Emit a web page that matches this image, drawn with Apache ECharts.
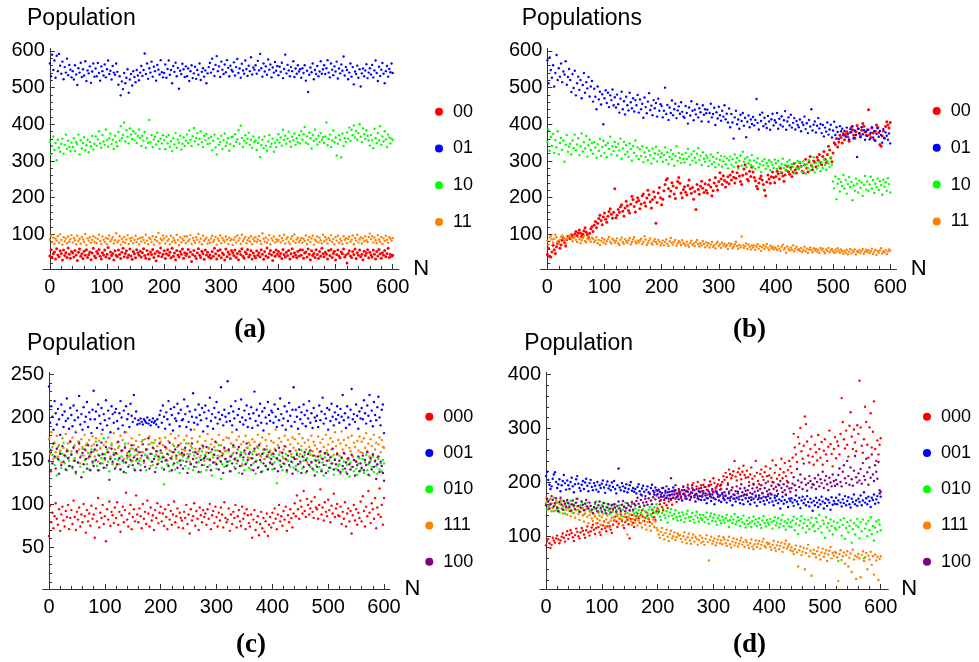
<!DOCTYPE html>
<html>
<head>
<meta charset="utf-8">
<script src="https://cdn.jsdelivr.net/npm/echarts@6/dist/echarts.min.js"></script>
<style>
html, body { margin: 0; padding: 0; background: #fff; }
#chart { width: 979px; height: 662px; }
</style>
</head>
<body>
<div id="chart"></div>
<script>
// Populations are recorded every STEP generations, from N = 0 to N = 600.
const STEP = 2;

const xTickLabels = [0, 100, 200, 300, 400, 500, 600];
const yTicksAB = [100, 200, 300, 400, 500, 600];
const yTicksC = [50, 100, 150, 200, 250];
const yTicksD = [100, 200, 300, 400];

const namesAB = ['00', '01', '10', '11'];
const namesCD = ['000', '001', '010', '111', '100'];

// ---- (a) two-bit genotypes, stable populations ----
const popA00 = [
41,58,36,47,52,33,61,44,39,55,48,30,57,42,50,37,63,46,35,53,
49,38,56,44,29,51,60,40,47,34,54,43,58,37,45,52,31,49,62,41,
36,53,47,59,40,33,50,44,57,38,46,64,35,52,42,48,30,55,43,39,
57,45,34,51,62,39,48,55,37,44,60,41,32,53,47,36,58,49,43,54,
38,50,61,42,35,56,46,33,52,45,59,37,48,28,54,41,50,63,39,46,
55,34,47,58,43,51,36,62,40,49,31,56,44,38,53,46,60,35,50,42,
47,59,39,52,26,45,56,41,34,50,61,43,37,54,48,32,57,44,51,38,
44,35,53,40,62,47,33,55,42,58,36,49,45,30,60,39,52,46,34,56,
50,42,57,37,48,31,54,45,61,40,35,52,47,59,38,44,55,33,49,41,
36,55,43,50,39,58,46,32,53,41,63,37,48,56,44,29,51,40,57,46,
53,40,48,34,59,45,38,51,42,56,33,47,61,39,50,44,36,54,41,58,
43,57,35,49,52,38,60,46,31,55,42,48,37,58,45,34,53,40,62,47,
39,51,46,33,56,42,59,37,48,54,30,45,57,41,36,52,47,60,38,44,
22,48,55,41,37,53,45,60,34,50,43,57,39,46,31,54,42,49,58,36,
51,44,38,57,46,33,53,41,59,47,35,50,43,56,39,48,62,37,45,40,
43];
const popA01 = [
566,531,590,548,574,527,587,545,592,560,538,571,523,556,541,579,534,562,549,528,
545,522,561,536,507,553,541,568,529,550,533,572,518,547,539,558,513,544,566,530,
552,531,567,540,519,558,545,533,563,528,550,574,537,546,522,559,541,535,566,543,
508,531,479,517,496,540,512,527,550,486,522,537,506,545,529,515,548,533,520,541,
559,532,548,593,537,566,524,553,541,571,530,557,545,519,562,549,536,575,542,528,
540,563,527,551,574,535,548,512,559,543,568,531,554,497,546,537,565,550,529,558,
531,552,518,545,561,526,539,557,524,548,535,566,521,543,553,530,547,512,539,556,
567,541,579,550,532,562,586,545,558,529,571,549,537,563,542,575,554,531,560,548,
544,569,533,556,578,540,552,527,565,547,538,574,551,532,560,545,583,536,555,549,
561,538,573,547,592,553,530,566,544,558,535,577,549,563,528,555,541,570,546,559,
534,557,543,568,526,551,590,539,562,547,531,556,545,572,529,552,538,561,544,550,
527,553,540,561,519,546,488,535,555,542,566,523,548,537,559,531,544,572,538,550,
561,537,553,575,541,528,566,549,534,558,544,571,525,552,539,563,546,585,533,556,
548,523,541,566,530,556,509,544,537,560,527,550,503,539,552,531,547,564,526,541,
553,536,562,528,547,574,540,518,557,532,549,567,538,512,545,559,530,551,542,566,
540];
const popA10 = [
352,318,341,367,330,349,302,358,336,325,347,361,320,344,372,333,355,339,327,350,
338,362,327,351,346,372,318,356,334,349,365,329,343,358,324,352,340,368,331,347,
367,342,359,381,348,336,371,353,344,386,357,339,362,375,346,358,333,369,352,340,
379,356,395,362,371,405,353,384,366,348,389,372,360,381,357,375,349,368,386,363,
341,368,355,379,336,362,349,412,352,371,338,359,366,345,377,354,333,361,348,370,
357,332,366,348,371,339,354,327,362,345,376,336,358,350,369,331,347,364,341,355,
372,349,383,358,341,367,390,354,363,376,345,360,381,352,338,369,357,374,346,362,
348,366,329,355,372,337,318,361,344,352,369,333,357,375,341,350,362,328,346,365,
366,341,373,352,359,384,347,396,363,338,355,370,349,361,377,344,358,336,367,351,
356,330,349,364,311,343,358,335,367,342,328,353,371,339,347,361,325,350,338,357,
373,350,364,342,385,358,369,347,361,380,353,339,366,357,375,344,362,351,370,348,
381,358,373,393,350,367,346,377,362,334,371,355,386,360,345,369,352,376,358,365,
349,367,405,343,360,372,338,356,383,351,364,315,347,370,358,310,375,341,362,352,
378,361,391,355,385,370,397,364,382,358,376,400,366,352,389,373,360,384,369,356,
342,371,357,335,388,362,349,376,356,395,344,367,353,381,359,338,372,364,348,361,
357];
const popA11 = [
86,97,79,91,74,88,83,95,77,100,85,72,92,81,89,76,94,80,87,98,
78,90,84,73,96,82,88,75,93,86,79,101,71,89,83,92,77,85,95,80,
91,76,87,99,82,74,94,85,79,90,73,88,97,81,86,92,75,84,103,78,
83,95,72,88,80,93,77,86,98,74,89,82,91,76,85,96,79,87,73,90,
80,92,85,77,99,83,74,91,87,79,95,72,86,93,81,104,76,88,84,97,
89,75,94,82,87,73,96,80,90,84,77,99,85,71,92,78,88,83,95,76,
94,81,86,98,74,90,83,77,92,85,101,79,88,73,96,82,87,91,75,84,
77,89,96,80,85,93,72,88,82,97,76,90,84,79,94,86,74,91,83,87,
71,85,92,78,97,83,89,74,99,81,87,93,76,84,90,80,95,73,88,82,
92,79,86,95,82,74,103,88,80,91,77,85,98,73,89,83,94,78,87,81,
85,96,78,90,83,99,75,87,92,80,74,88,95,82,100,77,86,91,79,84,
90,77,88,82,97,74,85,93,79,89,96,72,86,81,94,78,91,84,76,99,
81,93,86,75,90,84,98,79,87,73,92,83,96,77,88,82,74,95,85,89,
76,88,94,80,85,97,73,90,83,99,78,86,92,75,89,81,95,84,79,93,
102,87,95,78,91,84,76,98,86,80,93,74,89,82,96,85,77,92,88,83,
90];

// ---- (b) two-bit genotypes, shifting populations ----
const popB00 = [
45,62,40,38,52,70,58,48,66,75,80,62,71,84,90,77,68,86,95,93,
88,99,96,92,101,108,97,104,112,103,94,100,110,118,106,99,92,103,115,121,
108,125,135,118,130,143,152,138,126,147,158,141,133,149,162,170,155,144,160,224,
145,152,168,160,175,181,163,150,172,190,178,165,158,182,204,195,176,161,188,200,
192,170,183,205,210,186,177,199,220,208,189,172,195,216,202,130,187,213,228,200,
181,196,219,236,248,252,225,204,218,241,232,210,198,227,244,255,239,213,200,222,
230,215,207,233,248,224,212,228,196,217,168,236,222,209,231,245,226,214,238,220,
213,235,248,229,205,219,240,255,232,221,244,268,251,236,260,247,229,242,257,238,
262,248,271,256,240,253,268,285,259,244,236,261,278,290,265,250,246,272,258,283,
270,255,246,231,224,240,252,259,248,236,220,205,243,262,251,239,257,270,255,241,
258,272,265,251,280,268,259,245,262,275,286,271,264,282,258,270,293,276,267,285,
279,295,286,272,268,290,305,281,270,297,312,288,276,300,296,284,310,302,318,296,
290,312,326,305,296,318,340,330,308,298,322,350,345,361,338,352,370,364,349,375,
358,372,380,366,354,378,392,385,370,362,380,397,388,375,368,384,402,395,379,370,
385,440,372,364,390,376,358,381,398,392,377,345,340,368,382,363,394,407,398,390,
405];
const popB01 = [
575,512,582,548,527,561,503,540,589,521,553,530,566,515,544,536,572,508,529,551,
521,488,537,499,546,479,512,530,494,521,471,507,540,486,515,498,529,476,503,518,
462,497,475,441,503,468,489,454,482,400,471,493,458,486,447,479,466,495,452,474,
446,481,455,432,470,489,441,463,427,475,452,438,486,460,444,471,435,466,452,480,
432,468,441,456,418,473,447,430,462,485,439,451,425,466,444,458,421,470,437,455,
450,419,437,500,428,453,412,446,431,465,425,441,456,417,438,449,429,460,434,421,
418,450,431,402,446,424,463,437,411,440,427,455,419,444,433,408,452,426,441,430,
440,407,431,456,419,428,445,398,433,416,448,425,410,437,421,452,414,429,405,443,
392,428,405,361,419,437,400,413,388,426,409,431,396,418,365,407,424,392,413,401,
420,397,412,469,404,386,426,409,432,395,418,401,390,423,408,385,414,429,397,411,
405,431,388,415,399,422,394,411,436,385,408,419,397,426,391,404,417,386,409,398,
392,413,381,405,398,421,387,403,376,412,394,441,383,399,408,378,396,417,389,401,
376,398,367,391,380,405,372,386,399,364,383,407,371,392,379,360,395,381,388,370,
382,366,391,374,359,387,379,395,362,383,371,311,388,376,365,392,373,384,358,380,
368,385,359,377,392,364,381,355,374,389,366,382,371,350,387,362,378,369,358,375,
348];
const popB10 = [
352,385,328,366,341,374,322,357,337,381,318,349,363,330,356,298,344,371,325,339,
347,318,356,335,372,329,345,362,316,340,375,326,351,334,368,312,343,358,330,349,
320,351,337,309,346,328,360,314,338,355,322,343,310,349,333,366,318,340,327,352,
338,315,347,329,361,306,334,352,318,343,325,311,348,333,301,340,322,356,314,337,
305,332,314,340,297,323,311,336,302,328,316,293,334,307,321,339,299,318,328,310,
321,298,316,337,303,324,292,311,330,305,319,287,314,340,300,322,309,295,318,306,
296,322,305,333,312,290,318,301,327,309,296,320,335,303,314,289,324,306,298,315,
309,286,301,318,292,311,297,283,306,322,290,303,314,285,299,312,291,307,280,302,
312,290,305,284,318,296,308,279,301,315,287,325,298,306,283,310,294,302,289,316,
285,301,278,296,307,283,292,270,299,288,305,279,294,286,302,275,297,289,281,304,
294,279,300,285,270,292,306,281,289,274,298,287,303,276,291,284,266,295,282,300,
278,296,284,270,299,288,265,292,281,302,274,290,283,310,269,295,279,287,297,272,
296,281,304,289,276,300,293,284,310,290,244,226,258,196,238,251,217,243,232,262,
225,248,211,237,256,229,243,193,233,219,252,238,214,246,227,241,205,235,259,222,
244,218,236,257,225,248,213,238,229,252,221,245,234,208,249,230,242,219,253,237,
214];
const popB11 = [
83,72,91,95,86,78,88,99,92,81,76,85,93,97,89,82,74,87,90,95,
98,88,81,92,96,85,79,93,87,76,84,90,95,82,78,89,94,86,80,91,
88,79,84,92,76,85,71,83,90,78,86,74,81,87,93,80,75,88,84,77,
82,89,76,71,85,91,79,74,87,81,77,84,90,73,79,86,92,80,75,83,
78,84,88,73,80,95,86,71,77,83,89,76,72,81,87,79,74,85,80,70,
76,83,70,79,86,74,68,81,90,77,72,80,85,69,75,82,78,71,84,76,
74,69,80,72,66,77,83,71,75,68,79,85,73,67,76,70,81,74,65,78,
70,76,64,72,79,66,71,62,75,80,68,73,63,77,69,74,66,71,60,76,
69,74,62,67,73,80,68,61,71,65,94,70,63,68,75,60,72,66,59,70,
64,70,58,66,73,61,68,55,65,71,60,67,74,63,57,69,62,66,59,64,
62,57,68,61,55,66,72,59,63,50,67,60,56,64,58,70,54,61,66,57,
60,55,63,52,58,66,54,61,49,59,64,57,51,62,56,60,53,58,50,63,
57,61,53,48,59,55,63,51,57,60,54,49,58,52,62,56,50,59,54,47,
55,50,58,46,53,60,48,56,52,59,45,54,51,57,49,55,60,47,53,58,
52,57,49,54,61,47,53,58,44,55,50,56,62,48,54,51,57,46,53,59,
55];

// ---- (c) three-bit genotypes, stable populations ----
const popC000 = [
63,98,79,90,72,86,101,83,76,94,69,88,97,81,74,92,85,99,71,84,
93,77,104,85,70,91,82,96,74,88,79,100,86,67,93,80,89,75,98,83,
88,61,95,80,107,73,90,84,99,77,86,57,94,82,103,75,91,87,78,96,
84,102,76,91,68,87,97,79,93,113,82,74,89,99,71,85,94,80,110,88,
79,95,86,72,100,83,91,77,104,89,74,96,81,87,70,93,84,101,78,90,
97,80,89,75,94,85,71,99,82,92,76,88,103,79,86,95,73,90,84,81,
72,91,84,99,77,88,66,94,81,86,101,75,92,83,70,96,87,79,93,85,
89,76,94,83,100,71,87,92,78,97,85,74,90,81,96,88,73,102,84,79,
82,95,69,88,77,91,84,99,73,86,93,80,75,97,83,89,71,94,87,78,
74,88,61,82,93,70,79,86,64,77,91,72,84,68,80,89,63,76,85,73,
90,78,95,83,71,88,99,80,86,75,92,82,97,69,87,79,94,84,73,89,
101,86,110,94,83,104,97,89,115,92,85,106,99,88,95,103,91,84,108,96,
94,83,99,117,88,96,81,102,91,86,105,93,79,98,89,112,85,95,100,87,
86,97,77,91,83,102,74,89,95,80,92,66,87,99,81,94,76,90,84,103,
80,109,92,74,97,86,115,90,78,101,94,83,107,72,96,88,118,85,99,76,
107];
const popC001 = [
236,194,213,201,186,219,205,192,210,198,180,215,203,189,207,196,222,199,187,211,
203,190,214,197,183,208,200,225,192,204,186,212,195,201,218,189,206,198,182,209,
231,198,207,188,215,202,193,211,186,204,197,220,191,208,199,183,213,204,194,206,
210,196,187,205,219,200,191,208,183,213,198,204,189,216,202,195,226,199,207,192,
197,193,199,195,192,198,196,194,200,193,197,191,195,199,194,196,192,198,189,203,
208,194,214,201,187,206,198,219,192,210,203,185,212,199,196,216,205,190,209,197,
198,221,204,189,213,195,207,186,201,228,194,209,200,192,215,203,197,211,184,206,
214,199,190,208,223,196,204,187,211,200,218,193,206,198,235,203,191,209,201,195,
242,205,196,213,191,207,199,219,186,203,210,195,221,200,192,208,197,214,189,204,
199,212,188,205,230,196,209,191,202,216,194,207,185,211,200,193,218,203,196,208,
206,194,215,201,189,210,197,222,204,191,199,213,186,207,196,217,202,190,209,235,
195,209,201,187,212,198,206,193,215,203,190,208,199,219,194,205,188,211,200,196,
202,189,214,197,207,223,193,204,199,211,186,209,196,216,201,191,206,198,213,203,
194,210,201,226,197,205,188,213,200,192,209,233,198,204,195,215,202,187,207,199,
211,198,220,205,193,214,202,226,196,208,190,218,203,197,212,224,200,191,209,215,
182];
const popC010 = [
149,163,138,157,170,145,154,133,166,151,160,142,158,171,147,155,139,162,150,144,
158,141,166,153,135,160,148,172,143,156,164,137,151,168,146,159,140,155,163,147,
161,150,172,144,157,139,165,153,147,176,158,142,163,149,138,155,168,146,159,152,
143,158,151,167,140,155,162,148,170,136,153,160,145,157,149,164,141,156,150,161,
166,150,145,160,174,148,157,139,163,152,169,144,158,149,171,155,142,161,147,153,
159,142,155,123,150,164,146,157,138,161,152,145,167,140,154,148,160,136,151,157,
150,163,144,170,153,141,158,147,165,139,156,160,143,172,149,154,137,161,152,145,
157,139,152,165,145,160,133,154,148,162,141,156,168,150,129,146,158,143,161,149,
145,161,150,138,157,166,143,153,147,163,136,155,160,144,151,139,158,148,165,142,
153,140,158,147,161,135,150,165,143,156,149,138,159,152,144,163,141,154,147,157,
140,155,148,162,124,151,157,145,160,139,153,146,158,137,150,161,143,155,148,142,
152,144,159,138,155,147,162,141,150,157,136,153,146,160,143,149,156,139,151,145,
137,151,143,156,140,148,133,154,145,159,138,150,142,155,147,134,152,141,157,144,
146,135,153,140,149,158,137,145,151,132,148,143,155,138,150,141,134,147,153,139,
141,152,136,148,157,139,146,133,150,143,155,137,149,144,135,152,140,147,138,151,
147];
const popC111 = [
175,158,183,166,152,171,160,179,155,168,162,148,176,165,157,181,163,170,154,173,
161,177,150,168,184,159,172,163,147,175,166,156,180,162,170,153,174,158,167,178,
169,155,176,162,149,173,164,181,157,168,151,172,160,177,165,154,170,147,182,163,
158,171,165,146,179,161,174,152,167,183,159,170,155,164,176,150,168,162,173,157,
166,180,153,172,160,148,175,163,156,169,178,158,171,145,164,174,157,167,151,176,
172,159,168,154,177,165,150,173,162,181,155,169,160,176,152,166,179,158,170,163,
155,174,162,179,158,170,149,167,176,160,186,164,153,172,161,178,156,168,165,150,
173,160,181,164,152,169,175,157,166,148,171,162,180,155,168,159,174,163,152,177,
162,176,155,170,183,159,166,151,174,163,178,157,169,146,172,160,179,165,154,171,
168,153,175,161,172,149,166,180,158,170,155,177,163,152,174,167,157,181,162,173,
159,171,164,186,153,168,176,160,172,155,163,179,166,151,174,161,169,158,177,165,
175,162,152,170,181,158,167,176,154,171,163,149,174,166,157,179,161,172,168,155,
164,178,160,171,153,175,166,158,180,162,169,151,176,163,172,157,183,167,159,174,
156,170,184,163,174,158,168,152,177,165,161,179,155,171,166,150,173,162,178,160,
172,159,176,165,182,161,170,155,175,167,158,180,163,171,154,169,177,160,174,166,
165];
const popC100 = [
150,138,162,147,170,155,141,164,152,135,158,145,167,149,156,140,161,153,144,172,
157,143,165,150,137,161,148,170,154,131,159,146,163,152,141,168,155,139,160,149,
144,163,151,168,139,156,147,171,158,142,153,166,145,160,128,152,164,149,157,141,
159,146,172,153,140,162,150,137,165,148,156,143,161,151,168,145,154,139,163,152,
147,160,139,156,169,150,143,163,154,176,141,158,149,165,152,137,161,146,155,170,
162,149,154,140,166,151,158,144,171,153,139,160,147,163,156,142,168,150,145,159,
141,157,165,149,136,155,162,146,170,152,143,160,148,158,137,164,151,145,167,153,
155,166,143,159,151,139,163,148,157,172,146,153,140,161,149,156,136,165,152,144,
149,163,138,155,147,168,152,141,159,150,166,144,157,135,154,162,146,170,151,158,
160,145,153,139,164,149,157,142,168,151,137,158,147,163,144,155,140,160,148,152,
146,158,141,162,153,138,165,150,143,159,147,167,152,139,156,145,161,149,135,154,
152,140,157,146,163,149,136,155,143,160,151,138,158,145,162,148,141,156,133,150,
143,155,148,161,138,152,145,159,136,150,157,142,154,147,164,140,151,146,158,139,
150,137,154,144,159,141,148,135,153,146,140,157,143,151,133,149,145,155,138,147,
142,156,139,151,145,160,134,148,153,140,157,143,150,129,146,155,137,149,144,136,
127];

// ---- (d) three-bit genotypes, shifting populations ----
const popD000 = [
84,92,96,88,79,85,98,93,89,97,102,95,88,93,100,106,98,91,103,110,
96,104,112,107,99,92,103,115,109,101,97,108,116,111,104,98,112,119,108,102,
110,117,122,113,105,116,125,118,108,103,114,121,128,116,110,119,126,120,113,107,
122,130,137,128,118,124,133,141,129,121,116,127,136,131,123,97,133,140,126,118,
131,138,143,134,126,140,149,137,129,135,145,139,132,127,141,150,144,136,131,147,
152,146,160,168,155,149,162,171,158,153,165,176,168,159,172,183,170,164,176,185,
178,171,186,192,180,174,185,196,188,179,172,190,199,186,177,193,201,189,182,195,
184,196,205,192,187,178,193,202,196,185,208,199,190,183,197,205,194,188,201,212,
205,218,210,199,224,216,208,213,221,240,211,204,219,226,215,206,220,231,214,209,
222,210,201,215,228,207,196,212,240,218,203,197,216,224,211,205,219,230,212,202,
213,226,209,241,200,218,232,207,197,214,225,244,208,219,236,212,203,223,240,230,
218,246,290,265,252,238,284,272,301,258,244,268,322,308,276,250,237,262,285,248,
233,270,256,241,288,262,246,275,233,259,280,252,240,266,296,271,253,230,262,284,
245,276,268,252,290,356,312,280,263,296,270,248,305,330,285,262,298,274,258,306,
290,388,302,268,255,280,340,312,270,246,302,328,265,294,350,262,240,278,252,270,
282];
const popD001 = [
212,220,205,196,188,193,207,215,219,201,190,197,206,184,195,203,214,199,187,204,
195,188,201,209,193,182,197,206,212,198,190,185,196,203,188,200,207,194,184,199,
205,192,186,199,194,187,201,183,195,190,198,204,191,181,196,202,189,194,186,200,
192,203,188,180,195,226,191,186,199,193,184,190,197,182,188,195,201,185,190,183,
188,180,192,197,184,178,189,194,183,175,187,193,182,179,190,196,185,178,191,186,
179,187,183,174,181,190,176,185,172,182,188,177,170,184,191,178,186,173,180,169,
182,174,167,179,186,175,170,183,177,168,174,181,187,176,165,179,171,184,175,168,
174,180,168,176,162,171,183,175,166,178,172,160,169,181,174,167,176,164,179,171,
168,176,163,171,180,167,174,158,170,177,165,172,183,169,162,175,168,160,178,171,
177,165,172,160,168,179,170,163,174,157,169,176,164,171,181,166,160,173,168,175,
163,171,178,165,158,172,167,175,162,169,152,166,174,161,168,177,164,155,170,166,
171,163,157,168,176,165,160,172,153,167,174,162,169,158,175,164,156,170,163,148,
166,158,172,163,155,168,160,174,165,152,162,170,157,168,163,150,173,159,166,161,
172,160,167,178,163,156,169,162,175,158,166,173,160,154,170,164,178,160,167,157,
170,164,176,158,167,182,163,171,160,174,166,155,172,168,178,161,169,175,163,180,
174];
const popD010 = [
162,150,156,168,160,147,154,172,158,149,163,153,145,161,167,155,150,143,157,164,
152,159,166,148,144,155,162,170,157,150,146,158,164,153,141,149,156,163,152,147,
157,149,143,152,160,165,154,146,139,150,158,163,151,145,155,161,148,142,153,159,
146,154,160,149,141,152,158,145,138,150,157,163,152,144,137,148,155,161,147,143,
152,145,138,149,156,144,140,151,158,147,136,143,150,155,141,137,148,154,145,160,
143,150,137,131,144,152,140,135,147,126,138,145,151,139,133,142,149,136,130,144,
138,131,145,140,127,134,142,148,136,129,137,144,132,126,139,146,135,128,140,134,
131,140,127,136,145,132,124,138,143,129,135,141,128,122,134,139,130,125,137,131,
126,134,140,129,118,131,137,125,132,142,123,128,136,130,120,133,127,139,124,117,
130,123,135,126,118,129,137,124,132,120,127,134,122,116,130,138,125,119,131,126,
122,133,127,115,129,136,121,126,134,117,124,131,140,120,128,113,125,132,119,127,
118,130,137,112,124,133,105,121,129,138,116,125,132,108,120,131,114,126,135,119,
122,110,134,127,115,140,119,108,130,124,98,136,117,125,111,132,120,104,128,116,
113,126,55,118,131,102,122,134,96,116,127,108,120,130,89,114,125,104,121,133,
118,97,127,110,132,60,115,124,101,129,112,136,105,120,93,117,128,109,131,122,
112];
const popD111 = [
172,165,150,158,170,162,153,147,159,166,155,148,161,168,152,143,157,163,150,141,
154,147,138,150,158,144,135,149,156,142,131,146,152,139,128,143,151,137,125,140,
146,134,129,141,137,125,133,144,130,122,136,142,128,119,132,139,126,117,130,135,
148,136,130,143,138,126,134,145,132,121,137,142,129,104,135,141,128,122,133,139,
126,134,121,130,138,125,117,129,136,122,113,127,134,120,111,124,132,118,128,116,
112,104,98,109,116,103,95,107,113,100,92,105,111,97,101,108,94,99,106,102,
103,96,90,101,108,95,88,99,106,93,87,98,104,91,100,96,85,94,102,89,
98,91,85,96,103,90,56,94,100,87,92,97,84,89,95,101,88,93,86,99,
95,88,83,93,100,86,80,91,97,84,89,95,82,87,93,98,85,90,81,94,
90,84,79,88,95,82,77,86,93,81,87,92,78,85,91,96,83,80,89,86,
88,81,76,85,92,79,74,84,90,77,83,89,72,80,87,93,78,82,86,75,
80,73,68,77,84,71,45,75,82,66,72,79,40,70,78,85,64,74,28,69,
76,68,62,73,80,66,58,71,78,63,69,75,55,67,74,81,60,70,65,72,
70,62,18,68,75,57,64,71,50,66,73,45,61,69,35,76,58,65,22,63,
68,60,25,66,73,55,62,70,40,65,58,72,48,64,30,67,56,63,20,59,
64];
const popD100 = [
158,170,165,152,160,175,168,156,162,171,153,147,164,172,159,150,166,161,155,168,
162,155,148,160,167,158,151,163,170,157,146,154,165,159,149,161,168,156,152,163,
157,150,144,155,163,152,147,158,165,153,146,156,162,149,143,154,160,151,145,158,
151,160,154,146,157,165,152,148,159,166,155,147,153,162,158,149,156,164,150,161,
158,166,172,161,155,168,176,163,157,170,164,159,171,180,167,160,173,182,169,176,
185,172,166,178,190,174,168,181,193,176,170,183,208,178,172,186,195,180,174,188,
181,174,186,193,178,170,184,191,176,168,182,195,186,173,179,188,175,169,183,190,
176,184,192,180,171,186,195,179,173,188,182,170,185,193,178,174,187,196,181,175,
182,175,188,196,183,172,186,191,178,170,184,193,180,174,189,197,182,176,190,185,
178,186,194,181,173,189,198,183,176,191,185,172,188,195,180,174,190,199,184,178,
187,180,194,201,188,176,192,185,179,195,203,190,182,197,186,178,193,200,189,183,
190,198,210,195,186,225,204,192,215,200,188,235,207,196,185,199,212,203,191,197,
196,208,188,201,214,193,206,199,220,190,204,212,197,186,209,200,193,215,203,194,
205,197,214,226,201,193,220,232,208,199,240,212,196,228,206,194,222,249,210,200,
217,204,225,198,236,212,205,244,219,196,228,209,252,215,203,232,220,207,238,186,
183];

// ---- drawing ----
const FONT = '"Liberation Sans", Arial, sans-serif';
const SERIF = '"Liberation Serif", "Times New Roman", serif';
const AXIS = '#333';
const COLORS = {
  red: '#ff0000', blue: '#0000ff', green: '#00ff00',
  orange: '#ff8000', purple: '#800080'
};

function toPoints(values) {
  return values.map((v, i) => [i * STEP, v]);
}
function ticksEvery(from, to, step) {
  const out = [];
  for (let v = from; v <= to; v += step) out.push(v);
  return out;
}

// frame: the rectangle spanned by the horizontal axis (which reaches a little left of N = 0)
const panels = [
  {
    frame: { left: 43, top: 48.4, width: 356, height: 220.6 },
    x: [-12, 611], y: [5.5, 607], yMajor: yTicksAB, yMinor: ticksEvery(20, 600, 20),
    names: namesAB,
    series: [
      [namesAB[0], popA00, COLORS.red, 3],
      [namesAB[1], popA01, COLORS.blue, 2.4],
      [namesAB[2], popA10, COLORS.green, 2.4],
      [namesAB[3], popA11, COLORS.orange, 2.4]
    ],
    legend: { left: 435, top: 101.7, gap: 16.8 },
    title: 'Population', titleX: 27, titleY: 18.5,
    tag: '(a)', tagX: 250, tagY: 330
  },
  {
    frame: { left: 540.5, top: 48.4, width: 356, height: 220.6 },
    x: [-12, 611], y: [5.5, 607], yMajor: yTicksAB, yMinor: ticksEvery(20, 600, 20),
    names: namesAB,
    series: [
      [namesAB[0], popB00, COLORS.red, 3],
      [namesAB[1], popB01, COLORS.blue, 2.4],
      [namesAB[2], popB10, COLORS.green, 2.4],
      [namesAB[3], popB11, COLORS.orange, 2.4]
    ],
    legend: { left: 932.7, top: 101, gap: 16.8 },
    title: 'Populations', titleX: 521.7, titleY: 18.5,
    tag: '(b)', tagX: 749.5, tagY: 330
  },
  {
    frame: { left: 42.7, top: 372.3, width: 347.3, height: 216.7 },
    x: [-11.3, 610.7], y: [1.8, 252.3], yMajor: yTicksC, yMinor: ticksEvery(10, 250, 10),
    names: namesCD,
    series: [
      [namesCD[0], popC000, COLORS.red, 2.4],
      [namesCD[1], popC001, COLORS.blue, 2.4],
      [namesCD[2], popC010, COLORS.green, 2.4],
      [namesCD[3], popC111, COLORS.orange, 2.4],
      [namesCD[4], popC100, COLORS.purple, 2.4]
    ],
    legend: { left: 425.3, top: 406.7, gap: 16.25 },
    title: 'Population', titleX: 27, titleY: 343.5,
    tag: '(c)', tagX: 251, tagY: 645
  },
  {
    frame: { left: 540, top: 372.3, width: 348.3, height: 216.7 },
    x: [-10.8, 613.6], y: [3.4, 403.7], yMajor: yTicksD, yMinor: ticksEvery(20, 400, 20),
    names: namesCD,
    series: [
      [namesCD[0], popD000, COLORS.red, 2.4],
      [namesCD[1], popD001, COLORS.blue, 2.4],
      [namesCD[2], popD010, COLORS.green, 2.4],
      [namesCD[3], popD111, COLORS.orange, 2.4],
      [namesCD[4], popD100, COLORS.purple, 2.4]
    ],
    legend: { left: 923, top: 406.7, gap: 16.25 },
    title: 'Population', titleX: 524.3, titleY: 344,
    tag: '(d)', tagX: 749.5, tagY: 645
  }
];

const option = {
  animation: false,
  backgroundColor: '#fff',
  textStyle: { fontFamily: FONT },
  grid: [], xAxis: [], yAxis: [], series: [], legend: [], graphic: []
};

const hiddenAxis = { show: false, splitLine: { show: false } };

panels.forEach((p, g) => {
  const f = p.frame;
  // pixel position of N = 0, where the vertical axis stands
  const zeroShift = (0 - p.x[0]) / (p.x[1] - p.x[0]) * f.width;

  // grid 2g: full frame, carries the horizontal axis
  option.grid.push({ left: f.left, top: f.top, width: f.width, height: f.height,
                     outerBoundsMode: 'none', containLabel: false });
  // grid 2g+1: starts at N = 0, carries the vertical axis and the points
  option.grid.push({ left: f.left + zeroShift, top: f.top, width: f.width - zeroShift,
                     height: f.height, outerBoundsMode: 'none', containLabel: false });

  // x axes: 3g major (line, ticks, labels, name), 3g+1 minor ticks, 3g+2 data axis
  option.xAxis.push({
    gridIndex: 2 * g, type: 'value', position: 'bottom', min: p.x[0], max: p.x[1],
    name: 'N', nameLocation: 'end', nameGap: 10,
    nameTextStyle: { fontSize: 22, color: '#000', fontFamily: FONT, align: 'left',
                     verticalAlign: 'middle', padding: [0, 0, 9, 0] },
    axisLine: { show: true, onZero: false, lineStyle: { color: AXIS, width: 1 } },
    axisTick: { show: true, inside: true, length: 5, customValues: xTickLabels,
                lineStyle: { color: AXIS, width: 1 } },
    axisLabel: { show: true, customValues: xTickLabels, fontSize: 20, color: '#000',
                 margin: 8, fontFamily: FONT },
    splitLine: { show: false }
  });
  option.xAxis.push({
    gridIndex: 2 * g, type: 'value', position: 'bottom', min: p.x[0], max: p.x[1],
    axisLine: { show: false, onZero: false },
    axisTick: { show: true, inside: true, length: 3, customValues: ticksEvery(0, 600, 20),
                lineStyle: { color: AXIS, width: 1 } },
    axisLabel: { show: false },
    splitLine: { show: false }
  });
  option.xAxis.push(Object.assign({ gridIndex: 2 * g + 1, type: 'value', position: 'bottom',
                                    min: 0, max: p.x[1] }, hiddenAxis));

  // y axes: 3g hidden partner for the frame grid, 3g+1 major, 3g+2 minor ticks
  option.yAxis.push(Object.assign({ gridIndex: 2 * g, type: 'value', min: p.y[0], max: p.y[1] },
                                  hiddenAxis));
  option.yAxis.push({
    gridIndex: 2 * g + 1, type: 'value', position: 'left', min: p.y[0], max: p.y[1],
    axisLine: { show: true, onZero: false, lineStyle: { color: AXIS, width: 1 } },
    axisTick: { show: true, inside: true, length: 5, customValues: p.yMajor,
                lineStyle: { color: AXIS, width: 1 } },
    axisLabel: { show: true, customValues: p.yMajor, fontSize: 20, color: '#000',
                 margin: 5, fontFamily: FONT },
    splitLine: { show: false }
  });
  option.yAxis.push({
    gridIndex: 2 * g + 1, type: 'value', position: 'left', min: p.y[0], max: p.y[1],
    axisLine: { show: false, onZero: false },
    axisTick: { show: true, inside: true, length: 3, customValues: p.yMinor,
                lineStyle: { color: AXIS, width: 1 } },
    axisLabel: { show: false },
    splitLine: { show: false }
  });

  p.series.forEach(([name, values, color, size]) => {
    option.series.push({
      type: 'scatter', name: name,
      xAxisIndex: 3 * g + 2, yAxisIndex: 3 * g + 1,
      data: toPoints(values),
      symbol: 'circle', symbolSize: size,
      itemStyle: { color: color, opacity: 1 },
      silent: true
    });
  });

  option.legend.push({
    data: p.names, orient: 'vertical',
    left: p.legend.left, top: p.legend.top, itemGap: p.legend.gap,
    itemWidth: 8, itemHeight: 8, icon: 'circle', selectedMode: false,
    padding: 0,
    textStyle: { fontSize: 18, color: '#000', lineHeight: 20, fontFamily: FONT,
                 padding: [0, 0, 0, 5] }
  });

  option.graphic.push({
    type: 'text', x: p.titleX, y: p.titleY, silent: true,
    style: { text: p.title, font: '23px ' + FONT, fill: '#000',
             align: 'left', verticalAlign: 'middle' }
  });
  option.graphic.push({
    type: 'text', x: p.tagX, y: p.tagY, silent: true,
    style: { text: p.tag, font: 'bold 27px ' + SERIF, fill: '#000',
             align: 'center', verticalAlign: 'middle' }
  });
});

const chart = echarts.init(document.getElementById('chart'), null, { renderer: 'canvas' });
chart.setOption(option);
</script>
</body>
</html>
